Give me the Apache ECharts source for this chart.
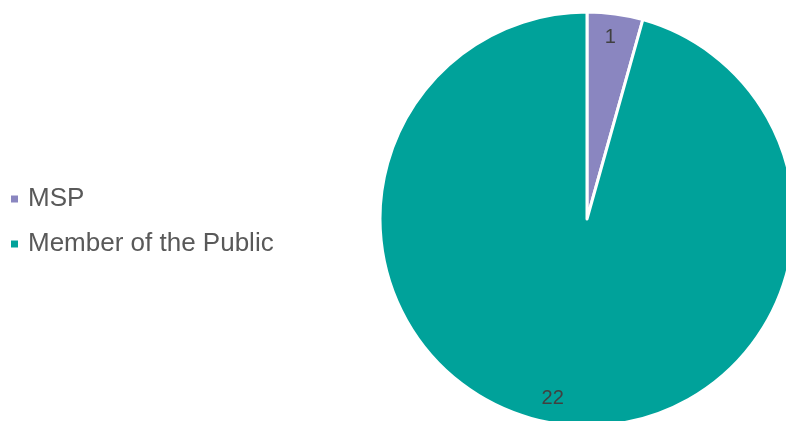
<!DOCTYPE html>
<html>
<head>
<meta charset="utf-8">
<script src="https://cdn.jsdelivr.net/npm/echarts@6/dist/echarts.min.js"></script>
<style>
  html, body { margin: 0; padding: 0; background: #ffffff; }
  #chart { width: 786px; height: 421px; }
</style>
</head>
<body>
<div id="chart"></div>
<script>
// Respondent types and their counts
const categories = ['MSP', 'Member of the Public'];
const counts = [1, 22];
const colors = ['#8A86C0', '#00A29A'];
// small nudges for the value labels
const labelOffsets = [[-2, 2], [-9, -4]];

const pieData = categories.map((name, i) => ({
  name: name,
  value: counts[i],
  itemStyle: { color: colors[i] }
}));

const chart = echarts.init(document.getElementById('chart'));
chart.setOption({
  animation: false,
  legend: {
    orient: 'vertical',
    left: 9,
    top: 186,
    padding: 0,
    icon: 'rect',
    itemWidth: 9,
    itemHeight: 9,
    itemGap: 19,
    textStyle: {
      fontFamily: 'Liberation Sans, Arial, sans-serif',
      fontSize: 26,
      lineHeight: 26,
      padding: [0, 0, 0, 4],
      color: '#595959'
    },
    data: categories
  },
  series: [
    {
      type: 'pie',
      center: [587, 219],
      radius: [0, 207],
      startAngle: 90,
      clockwise: true,
      label: { show: false },
      labelLine: { show: false },
      emphasis: { disabled: true },
      itemStyle: { borderColor: '#ffffff', borderWidth: 3 },
      data: pieData
    },
    {
      // ring used only to place the value labels near the rim
      type: 'pie',
      center: [587, 219],
      radius: [158, 207],
      startAngle: 90,
      clockwise: true,
      silent: true,
      legendHoverLink: false,
      itemStyle: { color: 'rgba(0,0,0,0)', borderWidth: 0 },
      label: {
        show: true,
        position: 'inside',
        formatter: '{c}',
        fontFamily: 'Liberation Sans, Arial, sans-serif',
        fontSize: 20,
        color: '#404040'
      },
      labelLine: { show: false },
      emphasis: { disabled: true },
      data: categories.map((name, i) => ({
        name: name + ' ',
        value: counts[i],
        label: { offset: labelOffsets[i] }
      }))
    }
  ]
});
</script>
</body>
</html>
